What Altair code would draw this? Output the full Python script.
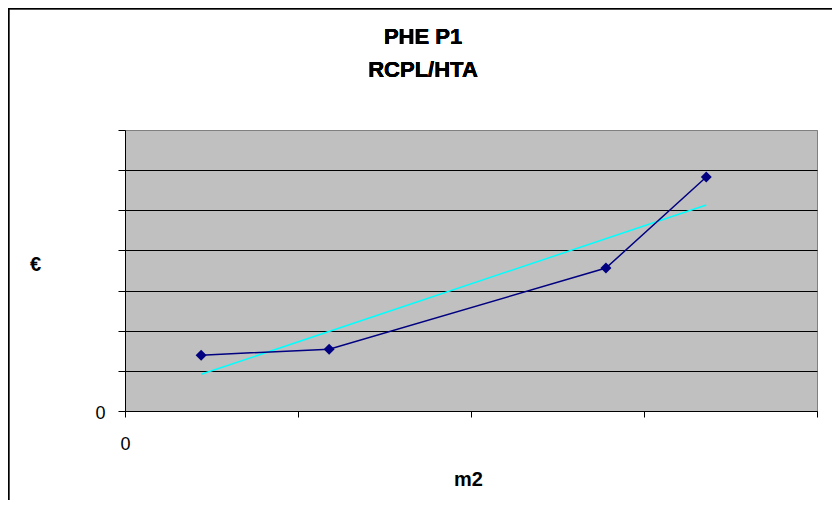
import altair as alt
import pandas as pd

# data (x in m2 axis units, y in € axis units)
area_m2 = [0.44, 1.18, 2.78, 3.36]
cost_eur = [1.39, 1.54, 3.56, 5.83]
x_ticks = [0, 1, 2, 3, 4]
y_ticks = [0, 1, 2, 3, 4, 5, 6, 7]
title_lines = ["PHE P1", "RCPL/HTA"]

df = pd.DataFrame({"m2": area_m2, "eur": cost_eur})

FONT = "Liberation Sans"
W, H = 692, 281

xenc = alt.X(
    "m2:Q",
    scale=alt.Scale(domain=[0, 4], nice=False, zero=False),
    axis=alt.Axis(
        values=x_ticks, grid=False, labelExpr="datum.value == 0 ? '0' : ''",
        tickSize=6, tickColor="black", domainColor="black", labelFlush=False,
        labelFont=FONT, labelFontSize=18, labelColor="black",
        labelBaseline="middle", labelPadding=27,
        title="m2", titleFont=FONT, titleFontSize=20, titleFontWeight="bold",
        titleColor="black", titleX=343, titleY=68, titleBaseline="middle",
        titleAnchor="start", titleAlign="center",
    ),
)
yenc = alt.Y(
    "eur:Q",
    scale=alt.Scale(domain=[0, 7], nice=False, zero=True),
    axis=alt.Axis(
        values=y_ticks, grid=True,
        gridColor={"condition": {"test": "datum.value == 7", "value": "#808080"}, "value": "black"},
        gridWidth=1, labelFlush=False,
        labelExpr="datum.value == 0 ? '0' : ''",
        tickSize=7, tickColor="black", domainColor="black",
        labelFont=FONT, labelFontSize=18, labelColor="black",
        labelBaseline="middle", labelPadding=13, labelOffset=2,
        title="€", titleFont=FONT, titleFontSize=20, titleFontWeight="bold",
        titleColor="black", titleAngle=0, titleX=-90, titleY=134,
        titleAlign="center", titleBaseline="middle",
    ),
)

base = alt.Chart(df)

line = base.mark_line(color="#000080", strokeWidth=1.5).encode(x=xenc, y=yenc)
pts = base.mark_point(shape="diamond", filled=True, color="#000080", size=120, opacity=1).encode(
    x="m2:Q", y="eur:Q"
)
trend = base.transform_regression("m2", "eur").mark_line(
    color="#00FFFF", strokeWidth=1.5
).encode(x="m2:Q", y="eur:Q")

border_top = alt.Chart(df).mark_rule(color="black", strokeWidth=1.5, clip=False).encode(
    x=alt.value(-116.5), x2=alt.value(720), y=alt.value(-121.5)
)
border_left = alt.Chart(df).mark_rule(color="black", strokeWidth=1.5, clip=False).encode(
    x=alt.value(-116.5), y=alt.value(-121.5), y2=alt.value(380)
)

def title_text(txt, ypos):
    return alt.Chart(df).mark_text(
        text=txt, font=FONT, fontSize=22, fontWeight="bold", color="black",
        align="center", baseline="alphabetic", clip=False,
    ).encode(x=alt.value(298), y=alt.value(ypos))

t1 = title_text(title_lines[0], -86)
t2 = title_text(title_lines[1], -53)

chart = (
    alt.layer(trend, line, pts, border_top, border_left, t1, t2)
    .properties(
        width=W,
        height=H,
        autosize=alt.AutoSizeParams(type="none"),
        padding={"left": 117, "top": 122, "right": 15, "bottom": 89},
        background="white",
    )
    .configure_view(fill="#C0C0C0", stroke="#808080", strokeWidth=1)
)

chart.save("out.html", embed_options={"renderer": "svg", "actions": False})
